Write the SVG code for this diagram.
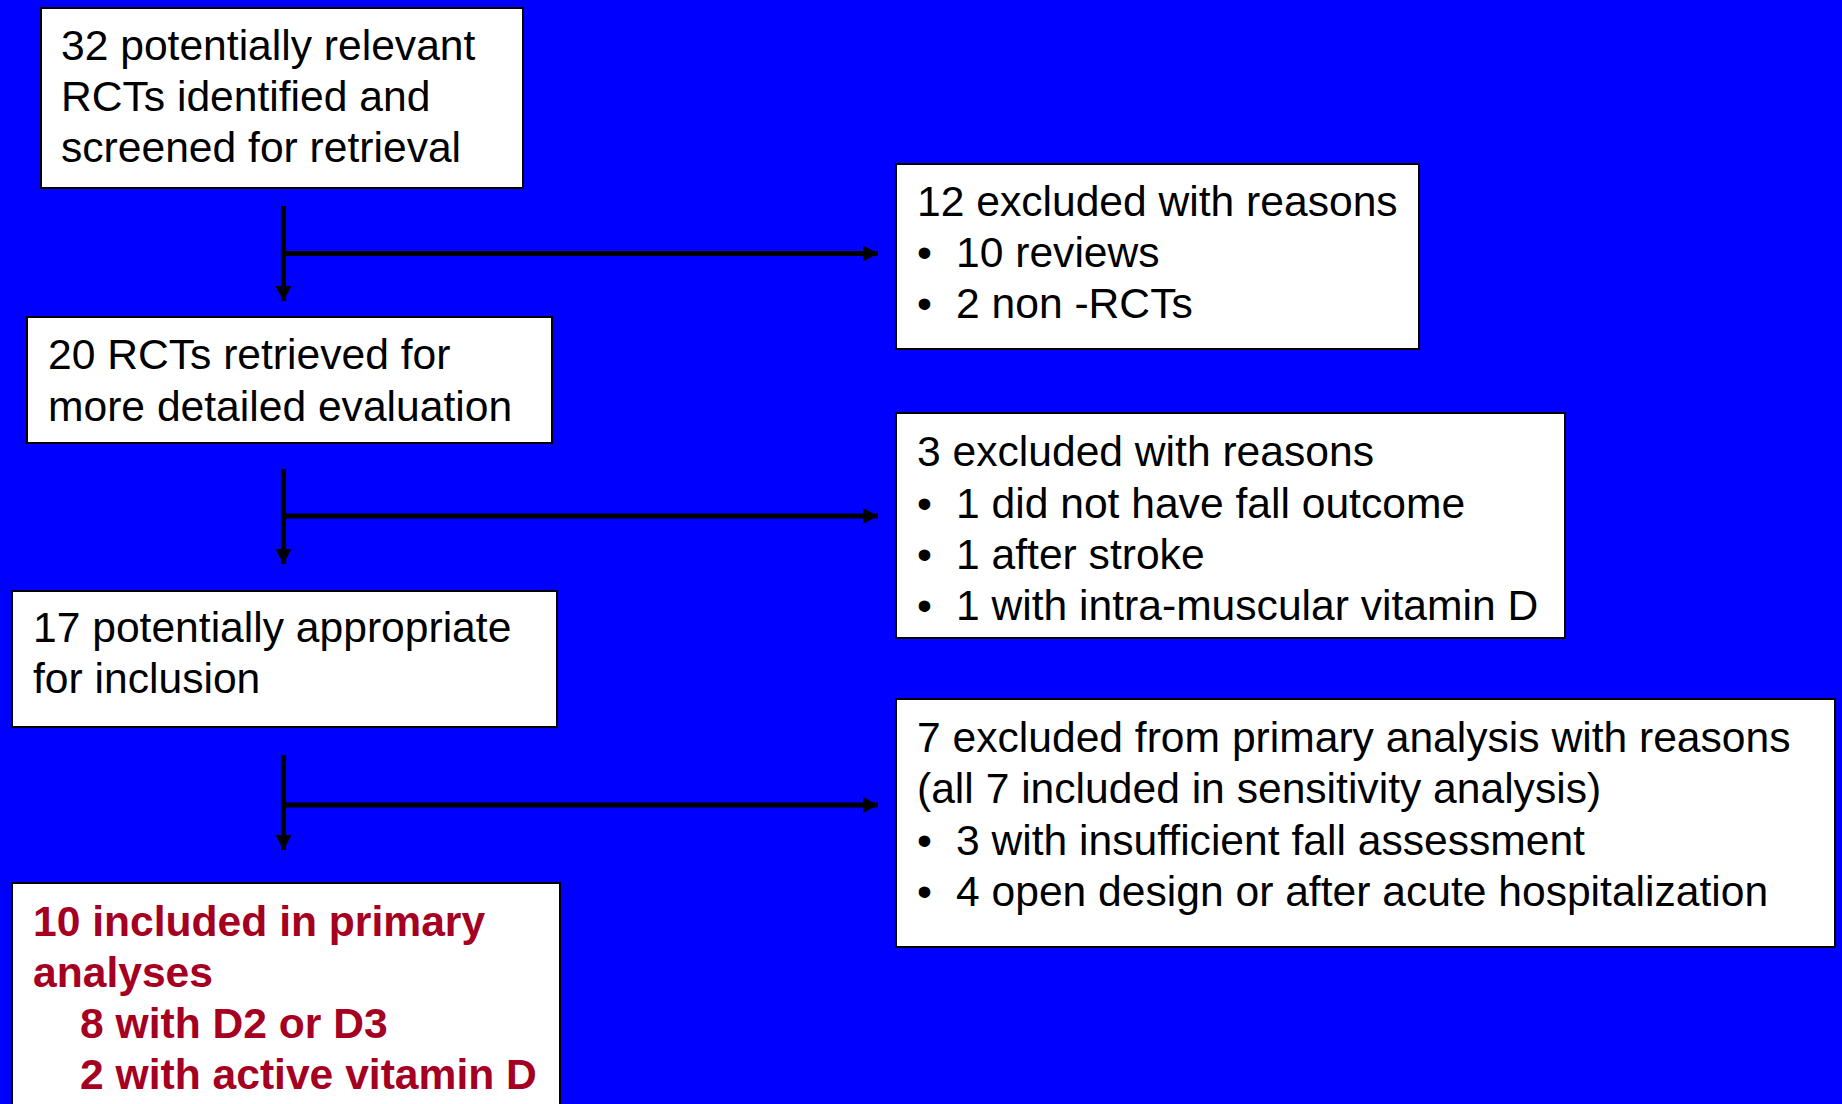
<svg xmlns="http://www.w3.org/2000/svg" width="1842" height="1104" viewBox="0 0 1842 1104">
<defs>
<marker id="ah" viewBox="0 0 15 16" refX="15" refY="8" markerWidth="15" markerHeight="16" markerUnits="userSpaceOnUse" orient="auto">
<path d="M0,0 L15,8 L0,16 z" fill="#000"/>
</marker>
<style>
.box{fill:#fff;stroke:#000;stroke-width:2}
.t{font-family:"Liberation Sans",Arial,sans-serif;font-size:42.6px;fill:#000}
.r{font-family:"Liberation Sans",Arial,sans-serif;font-size:42.6px;font-weight:bold;fill:#A50021}
.c{stroke:#000;stroke-width:5;fill:none}
</style>
</defs>
<rect width="1842" height="1104" fill="#0000FF"/>
<g id="connectors">
<path class="c" d="M283.5,206 V301" marker-end="url(#ah)"/>
<path class="c" d="M283.5,253.5 H878" marker-end="url(#ah)"/>
<path class="c" d="M283.5,469 V564" marker-end="url(#ah)"/>
<path class="c" d="M283.5,516 H878" marker-end="url(#ah)"/>
<path class="c" d="M283.5,755 V850" marker-end="url(#ah)"/>
<path class="c" d="M283.5,805 H878" marker-end="url(#ah)"/>
</g>
<g id="n1">
<rect class="box" x="41" y="8" width="482" height="180"/>
<text class="t" x="61" y="60">32 potentially relevant</text>
<text class="t" x="61" y="111">RCTs identified and</text>
<text class="t" x="61" y="162">screened for retrieval</text>
</g>
<g id="n2">
<rect class="box" x="27" y="317" width="525" height="126"/>
<text class="t" x="48" y="369">20 RCTs retrieved for</text>
<text class="t" x="48" y="421">more detailed evaluation</text>
</g>
<g id="n3">
<rect class="box" x="12" y="591" width="545" height="136"/>
<text class="t" x="33" y="642">17 potentially appropriate</text>
<text class="t" x="33" y="693">for inclusion</text>
</g>
<g id="n4">
<rect class="box" x="12" y="883" width="548" height="240"/>
<text class="r" x="33" y="936">10 included in primary</text>
<text class="r" x="33" y="987">analyses</text>
<text class="r" x="80" y="1038">8 with D2 or D3</text>
<text class="r" x="80" y="1089">2 with active vitamin D</text>
</g>
<g id="e1">
<rect class="box" x="896" y="164" width="523" height="185"/>
<text class="t" x="917" y="216">12 excluded with reasons</text>
<text class="t" x="917" y="267">•</text><text class="t" x="956" y="267">10 reviews</text>
<text class="t" x="917" y="318">•</text><text class="t" x="956" y="318">2 non -RCTs</text>
</g>
<g id="e2">
<rect class="box" x="896" y="413" width="669" height="225"/>
<text class="t" x="917" y="466">3 excluded with reasons</text>
<text class="t" x="917" y="518">•</text><text class="t" x="956" y="518">1 did not have fall outcome</text>
<text class="t" x="917" y="569">•</text><text class="t" x="956" y="569">1 after stroke</text>
<text class="t" x="917" y="620">•</text><text class="t" x="956" y="620">1 with intra-muscular vitamin D</text>
</g>
<g id="e3">
<rect class="box" x="896" y="699" width="939" height="248"/>
<text class="t" x="917" y="752">7 excluded from primary analysis with reasons</text>
<text class="t" x="917" y="803">(all 7 included in sensitivity analysis)</text>
<text class="t" x="917" y="855">•</text><text class="t" x="956" y="855">3 with insufficient fall assessment</text>
<text class="t" x="917" y="906">•</text><text class="t" x="956" y="906">4 open design or after acute hospitalization</text>
</g>
</svg>
